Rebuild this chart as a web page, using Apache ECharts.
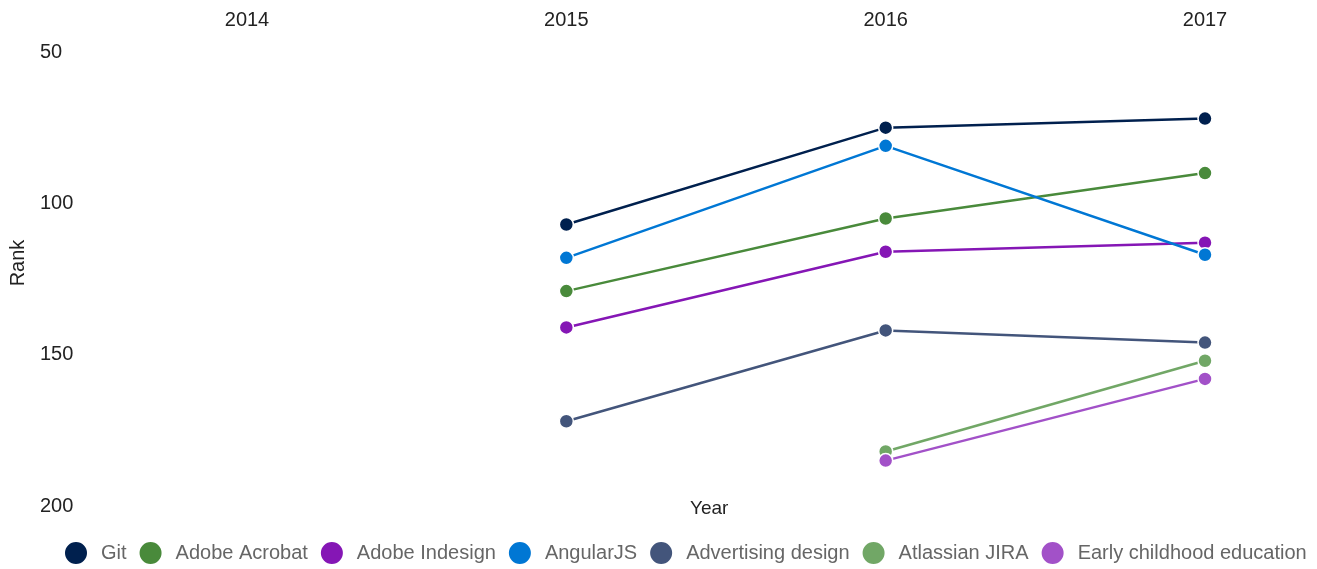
<!DOCTYPE html>
<html>
<head>
<meta charset="utf-8">
<script src="https://cdn.jsdelivr.net/npm/echarts@6/dist/echarts.min.js"></script>
<style>html,body{margin:0;padding:0;background:#fff}#c{width:1317px;height:569px}</style>
</head>
<body>
<div id="c"></div>
<script>
const years = ['2014', '2015', '2016', '2017'];
const yTicks = [50, 100, 150, 200];
const seriesNames = ['Git', 'Adobe Acrobat', 'Adobe Indesign', 'AngularJS', 'Advertising design', 'Atlassian JIRA', 'Early childhood education'];
const git = [null, 107, 75, 72];
const adobeAcrobat = [null, 129, 105, 90];
const adobeIndesign = [null, 141, 116, 113];
const angularJS = [null, 118, 81, 117];
const advertisingDesign = [null, 172, 142, 146];
const atlassianJira = [null, null, 182, 152];
const earlyChildhood = [null, null, 185, 158];
const colors = ['#00204e', '#498a3b', '#8516b5', '#0077d4', '#43557b', '#71a766', '#a251c8'];

const values = [git, adobeAcrobat, adobeIndesign, angularJS, advertisingDesign, atlassianJira, earlyChildhood];
const chart = echarts.init(document.getElementById('c'));
const font = 'Liberation Sans, Arial, sans-serif';
chart.setOption({
  animation: false,
  color: colors,
  textStyle: { fontFamily: font },
  grid: { left: 246, right: 112, top: 52, bottom: 63 },
  legend: {
    left: 63, top: 540, width: 1254, padding: 0, icon: 'circle', itemWidth: 24, itemHeight: 24, itemGap: 11,
    textStyle: { fontSize: 20, color: '#666', fontFamily: font, padding: [0, 0, 0, 8] },
    data: seriesNames
  },
  graphic: [{ type: 'text', left: 690, top: 499, style: { text: 'Year', fontSize: 19, fill: '#222', fontFamily: font } }],
  xAxis: {
    type: 'category', data: years, position: 'top', boundaryGap: false,
    axisLine: { show: false }, axisTick: { show: false }, splitLine: { show: false },
    axisLabel: { fontSize: 20, color: '#222', margin: 22, fontFamily: font }
  },
  yAxis: {
    type: 'value', inverse: true, min: yTicks[0], max: yTicks[yTicks.length - 1], interval: 50,
    name: 'Rank', nameLocation: 'middle', nameRotate: 90, nameGap: 219,
    nameTextStyle: { fontSize: 20, color: '#222', fontFamily: font, padding: [0, 0, 0, 32] },
    axisLine: { show: false }, axisTick: { show: false }, splitLine: { show: false },
    axisLabel: { fontSize: 20, color: '#222', margin: 207, align: 'left', fontFamily: font }
  },
  series: seriesNames.map((n, i) => ({
    name: n, type: 'line', data: values[i], symbol: 'circle', symbolSize: 14,
    lineStyle: { width: 2.5, color: colors[i] },
    itemStyle: { color: colors[i], borderColor: '#fff', borderWidth: 1.5 },
    emphasis: { disabled: true }
  }))
});
</script>
</body>
</html>
